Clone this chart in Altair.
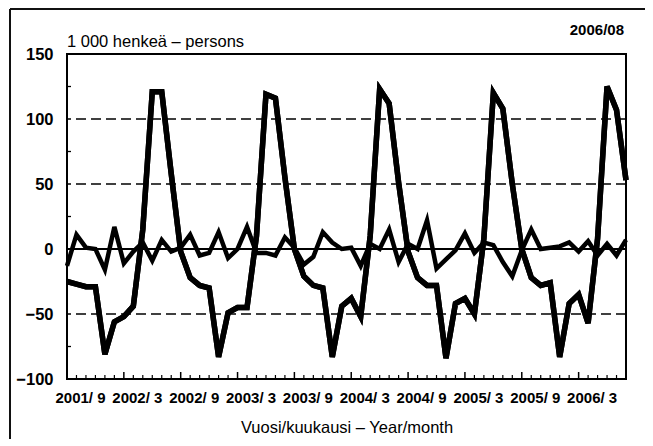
import altair as alt
import pandas as pd

# ---- data ----
months = []
for yr in range(2001, 2007):
    for mo in range(1, 13):
        if (2001, 9) <= (yr, mo) <= (2006, 8):
            months.append(f"{yr}/{mo:02d}")

series_a = [-25, -27, -29, -29, -81, -56, -52, -44, 15, 121, 121, 58,
            -2, -22, -28, -30, -83, -49, -45, -45, 10, 119, 116, 55,
            0, -21, -28, -30, -83, -44, -38, -52, 10, 123, 112, 51,
            -2, -22, -28, -28, -84, -42, -38, -50, 8, 120, 108, 50,
            0, -22, -28, -26, -83, -42, -35, -57, 8, 125, 107, 53]

series_b = [-13, 11, 1, 0, -16, 17, -11, -2, 5, -9, 7, -2,
            1, 11, -5, -3, 13, -7, 0, 17, -3, -3, -5, 9,
            1, -12, -6, 13, 5, 0, 1, -13, 4, 0, 15, -10,
            4, 0, 22, -15, -8, -1, 12, -3, 5, 3, -10, -21,
            -1, 15, 0, 1, 2, 5, -2, 6, -5, 4, -5, 7]

tick_labels = ["2001/ 9", "2002/ 3", "2002/ 9", "2003/ 3", "2003/ 9",
               "2004/ 3", "2004/ 9", "2005/ 3", "2005/ 9", "2006/ 3"]
y_labels = [-100, -50, 0, 50, 100, 150]
y_dashed = [100, 50, -50]
y_minor = [125, 75, 25, -25, -75]

unit_title = "1 000 henkeä – persons"
stamp = "2006/08"
x_title = "Vuosi/kuukausi – Year/month"

# ---- frames ----
idx = list(range(len(months)))
df = pd.DataFrame({"i": idx, "month": months, "a": series_a, "b": series_b})
df["major"] = [(k % 6 == 0) for k in idx]

W, H = 559, 325
FONT = "Liberation Sans"
xscale = alt.Scale(domain=[0, len(months) - 1], nice=False, zero=False)
yscale = alt.Scale(domain=[-100, 150], nice=False)

label_arr = "[" + ",".join(f"'{t}'" for t in tick_labels) + "]"

x_axis = alt.Axis(values=[k for k in idx if k % 6 == 0][:len(tick_labels)],
                  labelExpr=f"{label_arr}[round(datum.value/6)]",
                  ticks=False, domain=False, grid=False,
                  labelFont=FONT, labelFontSize=15, labelFontWeight="bold",
                  labelColor="black",
                  labelPadding=11, labelOffset=13, labelFlush=False,
                  labelOverlap=False,
                  title=x_title, titleFont=FONT, titleFontSize=16.5,
                  titleFontWeight="normal", titleColor="black", titlePadding=14)
y_axis = alt.Axis(values=y_labels, ticks=False, domain=False, grid=False,
                  labelFont=FONT, labelFontSize=16.5, labelFontWeight="bold",
                  labelColor="black",
                  labelPadding=14, labelOverlap=False, title=None)


def X(field):
    return alt.X(field, scale=xscale, axis=x_axis)


def Y(field):
    return alt.Y(field, scale=yscale, axis=y_axis)


base = alt.Chart(df)

grid = alt.Chart(pd.DataFrame({"v": y_dashed})).mark_rule(
    color="black", strokeWidth=1.3, strokeDash=[10, 5]
).encode(y=Y("v:Q"))

zero = alt.Chart(pd.DataFrame({"v": [0]})).mark_rule(
    color="black", strokeWidth=2
).encode(y=Y("v:Q"))

yminor = alt.Chart(pd.DataFrame({"v": y_minor})).mark_rule(
    color="black", strokeWidth=1.3
).encode(y=Y("v:Q"), x=alt.value(0), x2=alt.value(4))

xt_minor = base.transform_filter("!datum.major").mark_rule(
    color="black", strokeWidth=1.2
).encode(x=X("i:Q"), y=alt.value(H), y2=alt.value(H - 4))

xt_major = base.transform_filter("datum.major").mark_rule(
    color="black", strokeWidth=1.5
).encode(x=X("i:Q"), y=alt.value(H), y2=alt.value(H - 7))

line_b = base.mark_line(color="black", strokeWidth=4.5, strokeJoin="miter").encode(
    x=X("i:Q"), y=Y("b:Q"),
)

line_a = base.mark_line(color="black", strokeWidth=5.5, strokeJoin="miter").encode(
    x=X("i:Q"), y=Y("a:Q"),
)

title_txt = alt.Chart(pd.DataFrame({"t": [unit_title]})).mark_text(
    align="left", baseline="alphabetic", font=FONT, fontSize=16.5, color="black"
).encode(text="t:N", x=alt.value(0), y=alt.value(-7))

stamp_txt = alt.Chart(pd.DataFrame({"t": [stamp]})).mark_text(
    align="right", baseline="alphabetic", font=FONT, fontSize=15,
    fontWeight="bold", color="black"
).encode(text="t:N", x=alt.value(557), y=alt.value(-19))

frame_left = alt.Chart(pd.DataFrame({"k": [0]})).mark_rule(
    color="#111", strokeWidth=2
).encode(x=alt.value(-57), y=alt.value(-45), y2=alt.value(392))

frame_top = alt.Chart(pd.DataFrame({"k": [0]})).mark_rule(
    color="#111", strokeWidth=2
).encode(y=alt.value(-45), x=alt.value(-57), x2=alt.value(580))

chart = alt.layer(
    line_a, grid, zero, yminor, xt_minor, xt_major, line_b, line_a,
    title_txt, stamp_txt, frame_left, frame_top
).properties(
    width=W, height=H,
    autosize=alt.AutoSizeParams(type="none"),
    padding={"left": 59, "top": 46, "right": 19, "bottom": 60},
    background="white",
).configure_view(
    stroke="black", strokeWidth=2
)

chart.save("out.html", embed_options={"renderer": "svg", "actions": False})
